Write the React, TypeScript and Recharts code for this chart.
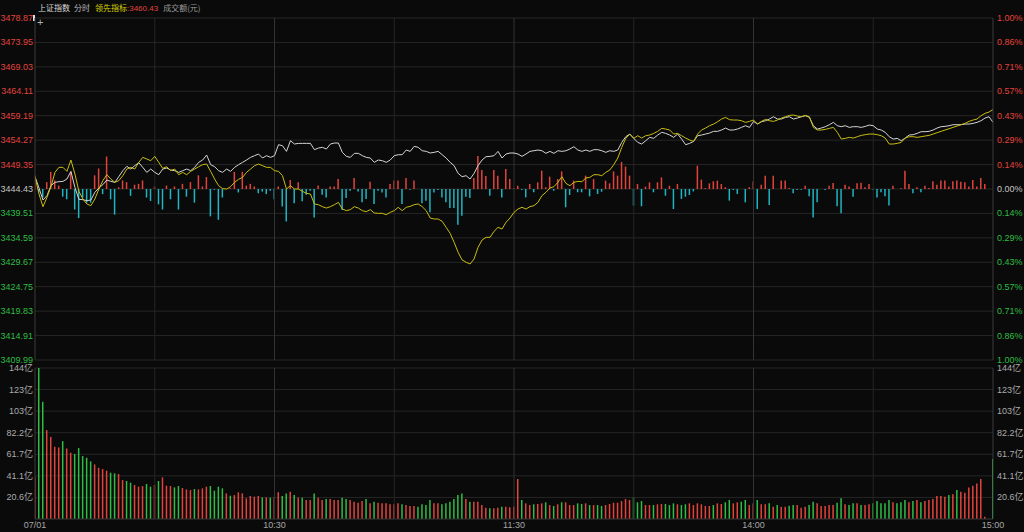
import { ComposedChart, Line, Bar, Cell, XAxis, YAxis, CartesianGrid, ReferenceLine } from 'recharts';

// 上证指数 分时, 07/01 — one value per minute, 09:30 .. 15:00 (241 points)
const prevClose = 3444.43;

const indexLine = [
  3446.91, 3444.63, 3442.21, 3443.09, 3445.10, 3445.77, 3445.90, 3445.97, 3446.44, 3447.98,
  3444.76, 3442.35, 3442.28, 3442.08, 3442.21, 3443.76, 3444.63, 3445.30, 3446.24, 3445.97,
  3445.77, 3446.91, 3448.12, 3448.99, 3448.45, 3449.13, 3449.73, 3448.79, 3447.78, 3448.45,
  3447.78, 3447.31, 3448.45, 3448.66, 3448.25, 3448.12, 3447.78, 3448.12, 3448.45, 3448.12,
  3448.79, 3449.80, 3450.27, 3451.27, 3449.33, 3448.92, 3448.12, 3447.78, 3448.45, 3447.98,
  3448.79, 3449.33, 3449.80, 3450.27, 3450.80, 3451.14, 3451.47, 3450.67, 3451.14, 3450.80,
  3451.14, 3453.35, 3453.15, 3452.01, 3454.16, 3453.49, 3453.62, 3453.62, 3453.62, 3453.62,
  3452.35, 3452.68, 3452.82, 3452.48, 3453.49, 3453.69, 3453.69, 3451.81, 3451.00, 3450.80,
  3451.61, 3451.61, 3451.14, 3450.80, 3450.67, 3449.80, 3450.27, 3450.13, 3449.80, 3450.27,
  3451.14, 3451.34, 3451.34, 3452.28, 3452.01, 3453.02, 3452.82, 3452.14, 3452.01, 3451.68,
  3451.81, 3452.01, 3451.34, 3450.67, 3449.80, 3449.13, 3447.58, 3446.91, 3447.11, 3446.44,
  3447.58, 3449.13, 3450.27, 3450.94, 3451.00, 3451.14, 3452.01, 3450.67, 3451.47, 3451.68,
  3451.68, 3451.47, 3451.00, 3451.47, 3452.01, 3452.14, 3452.28, 3452.14, 3451.61, 3452.01,
  3451.61, 3452.14, 3452.01, 3452.14, 3452.48, 3452.95, 3452.28, 3452.01, 3452.28, 3452.01,
  3452.35, 3452.35, 3452.14, 3451.81, 3452.14, 3452.01, 3452.28, 3453.82, 3454.96, 3455.50,
  3454.63, 3453.82, 3453.49, 3454.16, 3454.83, 3454.63, 3455.30, 3455.84, 3455.63, 3455.30,
  3454.83, 3455.50, 3454.49, 3453.35, 3453.62, 3454.02, 3455.16, 3455.30, 3455.50, 3455.70,
  3456.04, 3456.04, 3456.31, 3456.71, 3456.31, 3456.31, 3456.51, 3456.84, 3457.18, 3456.84,
  3458.05, 3457.51, 3457.98, 3458.18, 3458.52, 3458.99, 3458.52, 3458.52, 3458.85, 3458.99,
  3458.52, 3458.72, 3458.99, 3459.19, 3458.85, 3457.18, 3456.51, 3456.71, 3456.98, 3457.38,
  3457.85, 3457.18, 3456.98, 3457.18, 3456.84, 3456.98, 3456.98, 3456.84, 3457.04, 3457.31,
  3457.18, 3456.51, 3456.31, 3455.84, 3454.96, 3454.49, 3454.63, 3454.16, 3454.69, 3455.30,
  3455.37, 3455.63, 3455.97, 3455.97, 3456.04, 3456.31, 3456.71, 3456.98, 3457.04, 3457.18,
  3457.38, 3457.38, 3457.38, 3457.51, 3457.51, 3457.65, 3457.85, 3458.18, 3458.72, 3458.99,
  3457.85,
];

// 领先指标
const leadLine = [
  3446.91, 3443.42, 3440.87, 3442.75, 3444.90, 3447.78, 3448.79, 3448.79, 3447.98, 3450.27,
  3447.45, 3443.96, 3442.42, 3441.41, 3441.07, 3442.42, 3444.43, 3446.11, 3447.31, 3446.44,
  3445.77, 3446.11, 3447.11, 3448.45, 3448.79, 3448.45, 3449.80, 3450.80, 3450.47, 3450.13,
  3451.00, 3449.80, 3448.59, 3448.92, 3448.12, 3448.45, 3447.31, 3447.78, 3447.31, 3447.98,
  3448.45, 3448.92, 3449.33, 3449.46, 3447.98, 3446.44, 3445.10, 3444.50, 3444.43, 3444.90,
  3445.77, 3446.38, 3446.78, 3447.78, 3448.45, 3449.13, 3449.46, 3449.13, 3448.79, 3448.79,
  3448.12, 3447.98, 3447.11, 3444.43, 3445.10, 3444.43, 3444.43, 3443.96, 3443.56, 3443.42,
  3441.41, 3441.27, 3440.87, 3440.60, 3440.87, 3441.27, 3441.74, 3440.40, 3440.07, 3440.27,
  3440.87, 3440.60, 3440.07, 3439.87, 3440.27, 3439.60, 3439.53, 3439.53, 3439.26, 3439.73,
  3440.07, 3440.74, 3440.07, 3440.74, 3440.94, 3441.27, 3441.41, 3440.87, 3440.07, 3438.59,
  3438.39, 3438.39, 3437.92, 3436.71, 3435.50, 3433.69, 3431.68, 3430.14, 3429.67, 3429.33,
  3430.34, 3432.69, 3434.16, 3434.70, 3434.70, 3435.91, 3436.71, 3436.38, 3437.72, 3438.59,
  3439.73, 3440.40, 3440.74, 3440.40, 3440.87, 3441.07, 3441.74, 3443.09, 3443.76, 3444.63,
  3444.90, 3445.77, 3446.91, 3445.57, 3445.10, 3445.77, 3445.97, 3445.90, 3446.64, 3446.78,
  3447.31, 3447.31, 3447.11, 3447.78, 3448.25, 3449.33, 3450.67, 3452.82, 3454.63, 3455.50,
  3454.63, 3455.16, 3454.69, 3455.16, 3455.30, 3455.63, 3456.04, 3456.64, 3456.51, 3456.31,
  3455.50, 3455.63, 3455.16, 3454.69, 3454.29, 3454.02, 3455.50, 3456.31, 3456.71, 3457.18,
  3457.51, 3457.98, 3458.52, 3458.85, 3458.39, 3458.32, 3458.32, 3458.18, 3457.85, 3458.05,
  3458.32, 3457.51, 3458.05, 3458.45, 3458.18, 3458.05, 3458.32, 3458.72, 3458.99, 3459.26,
  3459.32, 3459.12, 3458.99, 3459.26, 3458.99, 3456.84, 3456.31, 3456.31, 3456.44, 3456.64,
  3456.84, 3455.84, 3454.49, 3454.63, 3454.83, 3454.69, 3454.96, 3455.23, 3455.37, 3455.50,
  3455.50, 3455.37, 3455.16, 3454.69, 3453.49, 3453.49, 3453.62, 3453.82, 3454.69, 3454.96,
  3454.96, 3454.83, 3454.96, 3455.10, 3455.23, 3455.50, 3455.77, 3456.04, 3456.31, 3456.57,
  3456.84, 3457.11, 3457.38, 3457.65, 3458.05, 3458.32, 3458.52, 3459.19, 3459.66, 3459.93,
  3460.43,
];

// buy / sell strength bars around the zero line
const force = [
  8, -2, -5, 4, 10, 5, 2, -4.5, -6, 10,
  -12, -17, -5, -8, -8, 8, 12, -3, 19, -6,
  -15, 1, 5, 4, -4, 2.5, 3, 5, -5, -7,
  1.5, -9, -12, 2, -6, 1.5, -12, 3, -4.5, 4,
  -8, 8, 1.5, 7, -16, -0.5, -18, -5, 0, 0.5,
  10, -2, 10, 2, 3, 1.5, -2.5, -1.5, -3, -1,
  -6, 1.4, -10.3, -19, 5.3, -8.4, 3.9, -7.2, -3.3, -1,
  -16.6, 2, -3.3, -4.9, 1.4, 1.4, 5.8, -12.3, -5.3, -1,
  6.4, -1.4, -7.8, -5.8, 4.3, -8.8, -1, -2, -4.9, 2.9,
  4.9, 4.9, -8.8, 6.4, -0.5, 4.9, 0, -8.4, -6.8, -13.6,
  -2, -0.6, -4.9, -7.8, -11.1, -11.1, -20.9, -15.6, -4.5, -5.3,
  6.4, 19.3, 11.1, 7.6, -3.9, 11.1, 7.8, -4.9, 11.7, 5.8,
  0.4, 1.9, -0.5, -4.9, 2.9, -1.9, 3.9, 10.7, 1, 7.2,
  -1, 5.8, 10.3, -10.7, -3.5, 4.9, -1.9, -1.9, 7.8, -4.3,
  5.8, -2.9, -1.6, 4.9, 3.3, 10.3, 7.8, 15.8, 13.1, 7.8,
  -9.7, 2.9, -10.1, 1.4, 3.9, -1.9, 3.9, 6.8, -3.9, 1.9,
  -11.7, 2.9, -5.8, -4.5, -3.5, -1.4, 13.6, 5.5, 0.6, 3.3,
  4.5, 4.9, 2.9, 1, -6.8, -0.6, -2.9, 0, -7.8, 1,
  4.5, -11.7, 2.5, 7.8, -9.4, 7.8, 0, 4.9, 4.9, 0.6,
  -2.5, -0.6, -0.4, 1.9, -4.3, -16.6, -7.8, 0, -0.6, 1.9,
  3.5, -10.1, -14.2, 2.5, 1.4, -4.5, 3.3, 3.7, 1, 2.9,
  -0.4, -4.9, -1.9, -4.3, -9.7, 1.9, 0, 0.4, 10.7, 2.9,
  -2.5, 1, -1.9, 1.9, 0.6, 4.5, 2.5, 4.9, 4.9, 1.4,
  4.5, 4.9, 4.3, 3.9, 1.4, 5.3, 1.4, 6.4, 2.9, 0,
  0,
];

// 成交额, 亿元 per minute
const volume = [
  40.3, 143.9, 111.7, 84.7, 78.3, 68.8, 68.2, 74.2, 67.2, 63.1,
  61.9, 67.6, 60.0, 58.4, 54.9, 52.0, 48.8, 47.6, 46.0, 44.1,
  43.5, 42.8, 37.1, 36.2, 34.6, 32.4, 30.8, 31.4, 33.3, 30.8,
  32.4, 36.2, 39.7, 31.7, 31.4, 30.1, 31.4, 29.5, 28.2, 27.6,
  28.5, 28.2, 29.2, 30.8, 31.4, 27.0, 30.8, 29.2, 24.4, 22.2,
  22.8, 25.4, 24.4, 19.7, 21.9, 21.3, 21.9, 20.6, 20.6, 20.3,
  20.6, 25.4, 21.9, 24.4, 26.0, 22.8, 20.6, 20.3, 18.1, 18.1,
  24.4, 20.3, 18.1, 19.0, 19.0, 18.1, 18.1, 20.3, 19.0, 18.1,
  16.5, 15.5, 17.1, 19.0, 14.9, 16.5, 15.5, 14.9, 14.9, 14.0,
  14.0, 14.9, 14.0, 13.3, 12.4, 12.4, 11.7, 14.0, 13.3, 18.1,
  14.9, 14.9, 14.0, 14.9, 16.5, 19.0, 22.8, 24.4, 19.0, 16.5,
  16.5, 16.5, 13.3, 10.8, 10.2, 10.2, 10.8, 11.7, 11.7, 11.1,
  11.7, 38.1, 18.1, 14.9, 13.3, 14.0, 14.3, 14.9, 15.9, 13.3,
  12.4, 14.0, 15.9, 15.9, 13.3, 13.3, 14.9, 14.3, 14.9, 13.3,
  13.3, 13.3, 12.4, 13.3, 14.3, 15.5, 15.5, 17.1, 19.0, 18.1,
  20.6, 15.9, 17.1, 13.3, 13.3, 13.3, 14.0, 14.3, 14.3, 13.3,
  14.9, 14.0, 13.3, 14.0, 14.9, 13.3, 14.9, 14.0, 12.4, 12.4,
  13.3, 14.9, 14.3, 15.9, 18.1, 14.9, 15.9, 16.5, 18.1, 13.3,
  14.9, 18.1, 14.0, 14.0, 14.9, 11.7, 13.3, 11.7, 11.7, 12.7,
  13.3, 13.3, 10.8, 11.7, 13.3, 16.5, 14.9, 12.4, 12.4, 13.3,
  13.3, 15.5, 19.7, 14.0, 13.3, 14.9, 14.9, 13.3, 13.3, 14.0,
  14.9, 17.1, 14.9, 14.9, 18.1, 15.9, 14.9, 15.9, 18.1, 15.9,
  17.1, 18.1, 15.9, 17.1, 18.1, 19.0, 21.9, 21.9, 21.3, 22.8,
  23.5, 27.6, 26.0, 25.1, 30.1, 31.7, 33.9, 38.1, 2.2, 0,
  57.1,
];

// R = up minute, G = down minute
const volumeSide = (
  'RGGRRRRGRR' + 'GGGGGRRRRG' + 'GRRGGRRRGG' + 'RGRRRGGRRR' + 'GRRRGGGGRG' +
  'RRRRRRRGRG' + 'RRGGRGRGRR' + 'GRRGRRRGGR' + 'RRRGRGRRRR' + 'RRGRRRGGGG' +
  'RRGGGGGGRG' + 'RRRRGRRGRR' + 'RRGRRGRRGR' + 'GRGRRRGGRG' + 'RGGRRRRRRR' +
  'GGGRRGRRGG' + 'GRGGRRRRRR' + 'GRRGGRRGGR' + 'RGRRGRGRRG' + 'GRRRGGRRRR' +
  'RGGRGGRGRR' + 'GGGGGRGGGR' + 'GRGRRRRRRG' + 'RGRRRRRRRR' + 'G'
).split('');

const priceTicks = [
  3409.99, 3414.91, 3419.83, 3424.75, 3429.67, 3434.59, 3439.51, 3444.43,
  3449.35, 3454.27, 3459.19, 3464.11, 3469.03, 3473.95, 3478.87,
];
const volumeMax = 143.9;
const volumeTicks = [20.56, 41.11, 61.67, 82.23, 102.79, 123.34, 143.9];
const timeTicks = [0, 60, 120, 180, 240];
const timeLabels = ['07/01', '10:30', '11:30', '14:00', '15:00'];
const halfHourLines = [30, 60, 90, 120, 150, 180, 210];

const rows = indexLine.map((price, i) => ({
  t: i,
  price,
  lead: leadLine[i],
  force: force[i],
  vol: volume[i],
  side: volumeSide[i],
}));

const BG = '#0a0a0a';
const GRID = '#262626';
const RED = '#e2433d';
const GREEN = '#2fbd45';
const CYAN = '#1fb5c2';
const YELLOW = '#c9be10';
const FONT = '"Liberation Sans", Arial, "Noto Sans CJK SC", sans-serif';

const tone = (v: number) => {
  if (Math.abs(v - prevClose) < 0.005) return '#c4c4c4';
  return v > prevClose ? RED : GREEN;
};

const LeftPriceTick = (props: any) => {
  const { x, y, payload } = props;
  return (
    <text x={x} y={y} textAnchor="end" dominantBaseline="central" fontSize={9} fontFamily={FONT} fill={tone(payload.value)}>
      {payload.value.toFixed(2)}
    </text>
  );
};

const RightPctTick = (props: any) => {
  const { x, y, payload } = props;
  const pct = (Math.abs(payload.value - prevClose) / prevClose) * 100;
  return (
    <text x={x} y={y} textAnchor="start" dominantBaseline="central" fontSize={9} fontFamily={FONT} fill={tone(payload.value)}>
      {pct.toFixed(2)}%
    </text>
  );
};

const volLabel = (v: number) => (v >= 100 ? v.toFixed(0) : v.toFixed(1)) + '亿';

const VolTick = (props: any) => {
  const { x, y, payload, side } = props;
  return (
    <text x={x} y={y} textAnchor={side === 'left' ? 'end' : 'start'} dominantBaseline="central" fontSize={9} fontFamily={FONT} fill="#aaaaaa">
      {volLabel(payload.value)}
    </text>
  );
};

const TimeTick = (props: any) => {
  const { x, y, payload } = props;
  const label = timeLabels[timeTicks.indexOf(payload.value)];
  return (
    <text x={x} y={y + 6} textAnchor="middle" dominantBaseline="central" fontSize={9} fontFamily={FONT} fill="#a6a6a6">
      {label}
    </text>
  );
};

const vLines = (axisId?: string) =>
  halfHourLines.map((m) => (
    <ReferenceLine
      key={m}
      x={m}
      yAxisId={axisId}
      stroke={m % 60 === 0 ? '#333333' : '#242424'}
      strokeWidth={1}
      ifOverflow="extendDomain"
    />
  ));

export default function App() {
  return (
    <div style={{ position: 'relative', width: 1024, height: 532, background: BG, overflow: 'hidden', fontFamily: FONT }}>
      <style>{`html,body{margin:0;background:${BG};}`}</style>

      {/* header */}
      <div style={{ position: 'absolute', left: 38, top: 2, fontSize: 8, lineHeight: '12px', whiteSpace: 'nowrap', fontFamily: '"Noto Sans CJK SC", "Liberation Sans", sans-serif' }}>
        <span style={{ color: '#d8d8d8' }}>上证指数</span>
        <span style={{ color: '#b8b8b8', marginLeft: 4 }}>分时</span>
        <span style={{ color: '#d6d000', marginLeft: 5 }}>领先指标</span>
        <span style={{ color: RED, fontFamily: FONT }}>:3460.43</span>
        <span style={{ color: '#9a9a9a', marginLeft: 5 }}>成交额(元)</span>
      </div>
      <div style={{ position: 'absolute', left: 33, top: 15, width: 2, height: 6, background: '#e0e0e0' }} />
      <div style={{ position: 'absolute', left: 37, top: 17, fontSize: 11, lineHeight: '10px', color: '#b0b0b0' }}>+</div>

      {/* price panel */}
      <div style={{ position: 'absolute', left: 0, top: 0 }}>
        <ComposedChart width={1024} height={364} data={rows} margin={{ top: 18, right: 0, bottom: 4, left: 0 }}>
          <CartesianGrid yAxisId="price" horizontal vertical={false} stroke={GRID} />
          <XAxis dataKey="t" type="number" domain={[0, 240]} allowDataOverflow hide />
          <YAxis
            yAxisId="price"
            orientation="left"
            width={35}
            domain={[priceTicks[0], priceTicks[priceTicks.length - 1]]}
            allowDataOverflow
            ticks={priceTicks}
            interval={0}
            tickSize={0}
            tickMargin={2}
            tick={LeftPriceTick}
            axisLine={{ stroke: '#3a3a3a' }}
            tickLine={false}
          />
          <YAxis
            yAxisId="pct"
            orientation="right"
            width={31}
            domain={[priceTicks[0], priceTicks[priceTicks.length - 1]]}
            allowDataOverflow
            ticks={priceTicks}
            interval={0}
            tickSize={0}
            tickMargin={4}
            tick={RightPctTick}
            axisLine={{ stroke: '#3a3a3a' }}
            tickLine={false}
          />
          <YAxis yAxisId="force" orientation="right" width={0} hide domain={[-100, 100]} allowDataOverflow />
          {vLines('price')}
          <Bar yAxisId="force" dataKey="force" barSize={1.5} isAnimationActive={false}>
            {rows.map((r) => (
              <Cell key={r.t} fill={r.force >= 0 ? RED : CYAN} />
            ))}
          </Bar>
          <Line yAxisId="price" type="linear" dataKey="price" stroke="#d4d4d4" strokeWidth={1} dot={false} activeDot={false} isAnimationActive={false} />
          <Line yAxisId="price" type="linear" dataKey="lead" stroke={YELLOW} strokeWidth={1} dot={false} activeDot={false} isAnimationActive={false} />
        </ComposedChart>
      </div>

      {/* volume panel */}
      <div style={{ position: 'absolute', left: 0, top: 364 }}>
        <ComposedChart width={1024} height={168} data={rows} margin={{ top: 4, right: 0, bottom: 0, left: 0 }}>
          <CartesianGrid yAxisId="vol" horizontal vertical={false} stroke={GRID} />
          <XAxis
            dataKey="t"
            type="number"
            domain={[0, 240]}
            allowDataOverflow
            ticks={timeTicks}
            interval={0}
            height={13}
            tickSize={0}
            tickMargin={0}
            tick={TimeTick}
            axisLine={{ stroke: '#2a2a2a' }}
            tickLine={false}
          />
          <YAxis
            yAxisId="vol"
            orientation="left"
            width={35}
            domain={[0, volumeMax]}
            allowDataOverflow
            ticks={volumeTicks}
            interval={0}
            tickSize={0}
            tickMargin={2}
            tick={(p: any) => <VolTick {...p} side="left" />}
            axisLine={{ stroke: '#3a3a3a' }}
            tickLine={false}
          />
          <YAxis
            yAxisId="volR"
            orientation="right"
            width={31}
            domain={[0, volumeMax]}
            allowDataOverflow
            ticks={volumeTicks}
            interval={0}
            tickSize={0}
            tickMargin={4}
            tick={(p: any) => <VolTick {...p} side="right" />}
            axisLine={{ stroke: '#3a3a3a' }}
            tickLine={false}
          />
          {vLines('vol')}
          <Bar yAxisId="vol" dataKey="vol" barSize={1.5} isAnimationActive={false}>
            {rows.map((r) => (
              <Cell key={r.t} fill={r.side === 'R' ? RED : GREEN} />
            ))}
          </Bar>
        </ComposedChart>
      </div>
    </div>
  );
}
